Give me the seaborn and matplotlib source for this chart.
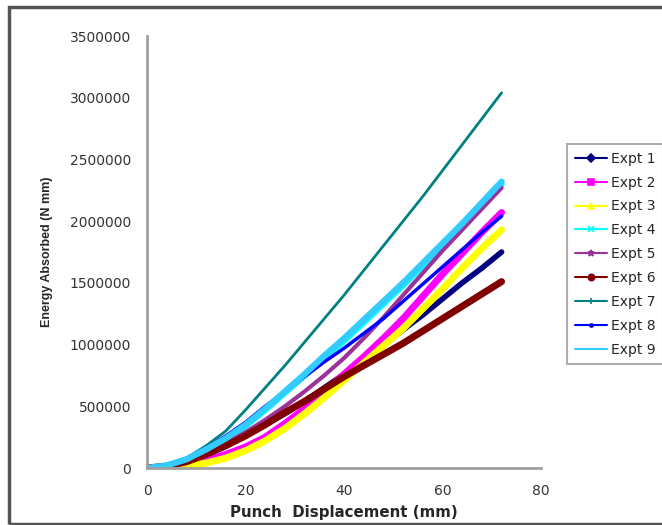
import pandas as pd
import matplotlib.pyplot as plt
import seaborn as sns
from matplotlib.lines import Line2D
from matplotlib.patches import Rectangle
from matplotlib.ticker import StrMethodFormatter

# Punch displacement (mm) at which each curve was read
disp = [0, 4, 8, 12, 16, 20, 24, 28, 32, 36, 40, 44, 48, 52, 56, 60, 64, 68, 72]

# Energy absorbed, in millions of N mm
expt1 = [0, 0.015, 0.05, 0.11, 0.18, 0.26, 0.35, 0.44, 0.54, 0.65, 0.76, 0.88, 1.00, 1.12, 1.24, 1.37, 1.50, 1.62, 1.75]
expt2 = [0, 0.005, 0.025, 0.06, 0.11, 0.17, 0.25, 0.36, 0.48, 0.62, 0.76, 0.90, 1.05, 1.21, 1.39, 1.57, 1.74, 1.91, 2.07]
expt3 = [0, 0.003, 0.015, 0.04, 0.08, 0.14, 0.22, 0.32, 0.44, 0.57, 0.71, 0.85, 0.99, 1.13, 1.29, 1.45, 1.62, 1.78, 1.93]
expt4 = [0, 0.02, 0.065, 0.14, 0.23, 0.34, 0.47, 0.61, 0.75, 0.89, 1.03, 1.18, 1.33, 1.48, 1.64, 1.80, 1.96, 2.13, 2.30]
expt5 = [0, 0.015, 0.06, 0.12, 0.20, 0.29, 0.39, 0.50, 0.62, 0.75, 0.89, 1.05, 1.22, 1.40, 1.58, 1.76, 1.93, 2.10, 2.27]
expt6 = [0, 0.015, 0.05, 0.11, 0.18, 0.26, 0.35, 0.45, 0.54, 0.64, 0.74, 0.83, 0.92, 1.01, 1.11, 1.21, 1.31, 1.41, 1.51]
expt7 = [0, 0.02, 0.08, 0.18, 0.30, 0.47, 0.65, 0.83, 1.02, 1.21, 1.40, 1.60, 1.80, 2.00, 2.20, 2.41, 2.62, 2.83, 3.04]
expt8 = [0, 0.025, 0.08, 0.16, 0.26, 0.37, 0.50, 0.62, 0.74, 0.86, 0.97, 1.09, 1.21, 1.35, 1.49, 1.63, 1.77, 1.91, 2.04]
expt9 = [0, 0.02, 0.07, 0.15, 0.24, 0.35, 0.48, 0.62, 0.76, 0.91, 1.05, 1.20, 1.35, 1.50, 1.66, 1.82, 1.98, 2.15, 2.32]

names = ["Expt 1", "Expt 2", "Expt 3", "Expt 4", "Expt 5", "Expt 6", "Expt 7", "Expt 8", "Expt 9"]
series = [expt1, expt2, expt3, expt4, expt5, expt6, expt7, expt8, expt9]

y_ticks = [0, 500000, 1000000, 1500000, 2000000, 2500000, 3000000, 3500000]
x_ticks = [0, 20, 40, 60, 80]

# Excel 2003 style colours / markers
colors = ["#000080", "#FF00FF", "#FFFF00", "#00FFFF", "#993399",
          "#800000", "#008080", "#0000FF", "#33CCFF"]
markers = ["D", "s", "^", "x", "*", "o", "+", ".", "_"]
widths = [4, 5, 5, 4.5, 3, 5, 2, 2.5, 4.5]

# long format table for seaborn
rows = []
for name, vals in zip(names, series):
    for d, v in zip(disp, vals):
        rows.append({"disp": d, "energy": v * 1e6, "expt": name})
df = pd.DataFrame(rows)

sns.set_style("white")
plt.rcParams["font.family"] = ["DejaVu Sans"]

fig = plt.figure(figsize=(6.62, 5.25), dpi=100)
ax = fig.add_axes([147 / 662, 1 - 468 / 525, 394 / 662, 432 / 525])

sns.lineplot(data=df, x="disp", y="energy", hue="expt", size="expt",
             palette=dict(zip(names, colors)), sizes=dict(zip(names, widths)),
             hue_order=names, size_order=names, legend=False, ax=ax)

ax.set_xlim(0, 80)
ax.set_ylim(0, 3500000)
ax.set_xticks(x_ticks)
ax.set_yticks(y_ticks)
ax.yaxis.set_major_formatter(StrMethodFormatter("{x:.0f}"))

for s in ["top", "right"]:
    ax.spines[s].set_visible(False)
for s in ["left", "bottom"]:
    ax.spines[s].set_color("#a0a0a0")
    ax.spines[s].set_linewidth(2)
ax.tick_params(direction="out", length=5, width=1.5, color="#a0a0a0",
               labelsize=10, labelcolor="#333333", pad=6.5)

ax.set_xlabel("Punch  Displacement (mm)", fontsize=10.8, fontweight="bold",
              labelpad=5)
ax.set_ylabel("Energy Absorbed (N mm)", fontsize=9, fontweight="bold",
              family=["Liberation Sans", "DejaVu Sans"], labelpad=12)

# legend with the original marker symbols
handles = [Line2D([], [], color=c, marker=m, markersize=4.5, lw=1.5, mew=1.2)
           for c, m in zip(colors, markers)]
leg = fig.legend(handles, names, loc="upper left",
                 bbox_to_anchor=(567 / 662, 1 - 144 / 525),
                 bbox_transform=fig.transFigure, fontsize=10,
                 frameon=True, fancybox=False, edgecolor="#999999",
                 borderaxespad=0, handlelength=2.3, labelspacing=0.71,
                 handletextpad=0.3, borderpad=0.55)
leg.get_frame().set_linewidth(1.5)

# outer chart frame
fig.patches.append(Rectangle((9 / 662, 1 - 524 / 525), 660 / 662, 517 / 525,
                             transform=fig.transFigure, fill=False,
                             edgecolor="#555555", lw=2.5))

fig.savefig("out.png", dpi=100)
